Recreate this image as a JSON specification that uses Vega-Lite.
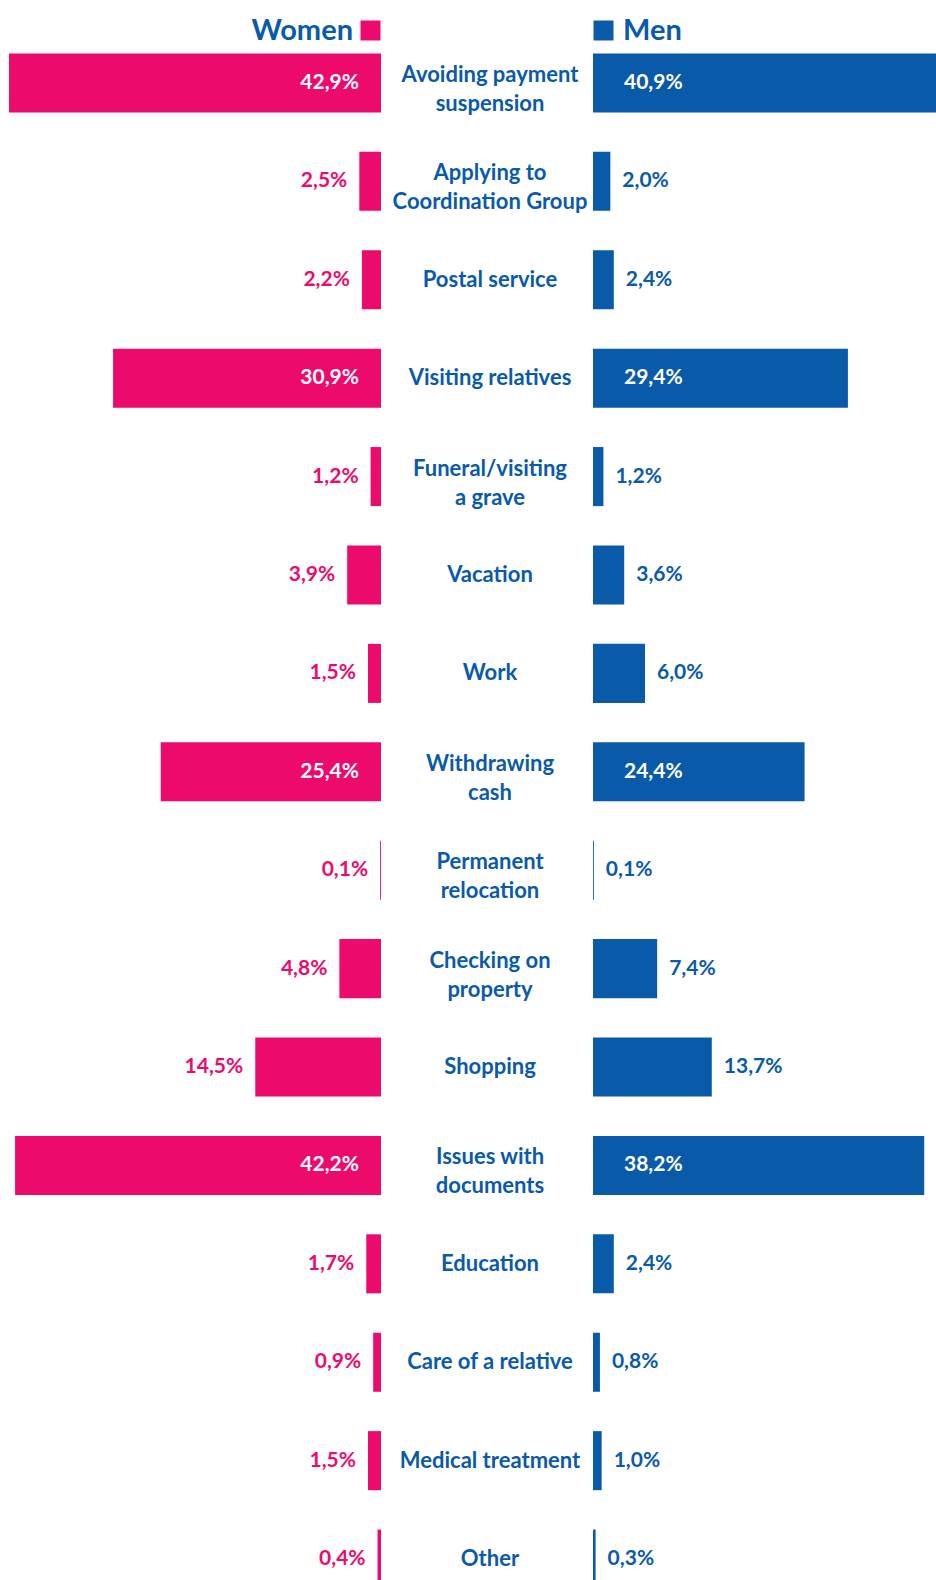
{
  "$schema": "https://vega.github.io/schema/vega-lite/v6.json",
  "padding": 0,
  "background": "white",
  "spacing": 0,
  "bounds": "flush",
  "config": {
    "view": {"stroke": null},
    "locale": {"number": {"decimal": ",", "thousands": ".", "grouping": [3], "currency": ["", " €"]}},
    "text": {"font": "Lato", "fontWeight": "bold"}
  },
  "datasets": {
    "rows": [
      {"cat": "Avoiding payment\nsuspension", "sex": "Women", "share": 0.429},
      {"cat": "Applying to\nCoordination Group", "sex": "Women", "share": 0.025},
      {"cat": "Postal service", "sex": "Women", "share": 0.022},
      {"cat": "Visiting relatives", "sex": "Women", "share": 0.309},
      {"cat": "Funeral/visiting\na grave", "sex": "Women", "share": 0.012},
      {"cat": "Vacation", "sex": "Women", "share": 0.039},
      {"cat": "Work", "sex": "Women", "share": 0.015},
      {"cat": "Withdrawing\ncash", "sex": "Women", "share": 0.254},
      {"cat": "Permanent\nrelocation", "sex": "Women", "share": 0.001},
      {"cat": "Checking on\nproperty", "sex": "Women", "share": 0.048},
      {"cat": "Shopping", "sex": "Women", "share": 0.145},
      {"cat": "Issues with\ndocuments", "sex": "Women", "share": 0.422},
      {"cat": "Education", "sex": "Women", "share": 0.017},
      {"cat": "Care of a relative", "sex": "Women", "share": 0.009},
      {"cat": "Medical treatment", "sex": "Women", "share": 0.015},
      {"cat": "Other", "sex": "Women", "share": 0.004},
      {"cat": "Avoiding payment\nsuspension", "sex": "Men", "share": 0.409},
      {"cat": "Applying to\nCoordination Group", "sex": "Men", "share": 0.020},
      {"cat": "Postal service", "sex": "Men", "share": 0.024},
      {"cat": "Visiting relatives", "sex": "Men", "share": 0.294},
      {"cat": "Funeral/visiting\na grave", "sex": "Men", "share": 0.012},
      {"cat": "Vacation", "sex": "Men", "share": 0.036},
      {"cat": "Work", "sex": "Men", "share": 0.060},
      {"cat": "Withdrawing\ncash", "sex": "Men", "share": 0.244},
      {"cat": "Permanent\nrelocation", "sex": "Men", "share": 0.001},
      {"cat": "Checking on\nproperty", "sex": "Men", "share": 0.074},
      {"cat": "Shopping", "sex": "Men", "share": 0.137},
      {"cat": "Issues with\ndocuments", "sex": "Men", "share": 0.382},
      {"cat": "Education", "sex": "Men", "share": 0.024},
      {"cat": "Care of a relative", "sex": "Men", "share": 0.008},
      {"cat": "Medical treatment", "sex": "Men", "share": 0.010},
      {"cat": "Other", "sex": "Men", "share": 0.003}
    ]
  },
  "resolve": {
    "scale": {"x": "independent", "y": "independent", "color": "independent"},
    "legend": {"color": "independent"}
  },
  "hconcat": [
    {
      "width": 381,
      "height": 1642,
      "data": {"name": "rows"},
      "transform": [{"filter": "datum.sex === 'Women'"}],
      "encoding": {
        "y": {"field": "cat", "type": "nominal", "sort": null, "axis": null,
              "scale": {"type": "band", "paddingInner": 0.4, "paddingOuter": 0.5427}}
      },
      "layer": [
        {
          "mark": {"type": "bar", "clip": true},
          "encoding": {
            "x": {"field": "share", "type": "quantitative", "axis": null,
                  "scale": {"domain": [0, 0.4394], "reverse": true, "nice": false, "zero": true}},
            "color": {"field": "sex", "type": "nominal",
                      "scale": {"domain": ["Women"], "range": ["#EC0B6D"]},
                      "legend": {"orient": "none", "legendX": 356, "legendY": 16, "title": null,
                                 "symbolType": "square", "symbolSize": 400, "symbolStrokeWidth": 0,
                                 "symbolOpacity": 1,
                                 "labelFont": "Lato", "labelFontSize": 29, "labelFontWeight": "bold",
                                 "labelColor": "#0A5AAA", "labelAlign": "right", "labelOffset": -32,
                                 "padding": 0, "labelLimit": 0}}
          }
        },
        {
          "transform": [{"filter": "datum.share >= 0.2"}],
          "mark": {"type": "text", "align": "right", "baseline": "middle", "dx": -22, "color": "white", "fontSize": 21},
          "encoding": {
            "x": {"datum": 0, "type": "quantitative"},
            "text": {"field": "share", "type": "quantitative", "format": ".1%"}
          }
        },
        {
          "transform": [{"filter": "datum.share < 0.2"}],
          "mark": {"type": "text", "align": "right", "baseline": "middle", "dx": -12, "color": "#EC0B6D", "fontSize": 21},
          "encoding": {
            "x": {"field": "share", "type": "quantitative"},
            "text": {"field": "share", "type": "quantitative", "format": ".1%"}
          }
        }
      ]
    },
    {
      "width": 212,
      "height": 1642,
      "data": {"name": "rows"},
      "transform": [{"filter": "datum.sex === 'Women'"}],
      "encoding": {
        "y": {"field": "cat", "type": "nominal", "axis": null,
              "sort": ["Avoiding payment\nsuspension", "Applying to\nCoordination Group", "Postal service",
                       "Visiting relatives", "Funeral/visiting\na grave", "Vacation", "Work",
                       "Withdrawing\ncash", "Permanent\nrelocation", "Checking on\nproperty", "Shopping",
                       "Issues with\ndocuments", "Education", "Care of a relative", "Medical treatment", "Other"],
              "scale": {"type": "band", "paddingInner": 0.4, "paddingOuter": 0.5427}},
        "text": {"field": "cat", "type": "nominal"}
      },
      "layer": [
        {
          "transform": [{"filter": "indexof(datum.cat, '\\n') < 0"}],
          "mark": {"type": "text", "lineBreak": "\n", "font": "Lato", "fontWeight": "bold", "fontSize": 22,
                   "lineHeight": 29, "color": "#0A5AAA", "align": "center", "baseline": "middle", "dx": 3}
        },
        {
          "transform": [{"filter": "indexof(datum.cat, '\\n') >= 0"}],
          "mark": {"type": "text", "lineBreak": "\n", "font": "Lato", "fontWeight": "bold", "fontSize": 22,
                   "lineHeight": 29, "color": "#0A5AAA", "align": "center", "baseline": "middle", "dx": 3, "dy": -8}
        }
      ]
    },
    {
      "width": 343,
      "height": 1642,
      "data": {"name": "rows"},
      "transform": [{"filter": "datum.sex === 'Men'"}],
      "encoding": {
        "y": {"field": "cat", "type": "nominal", "sort": null, "axis": null,
              "scale": {"type": "band", "paddingInner": 0.4, "paddingOuter": 0.5427}}
      },
      "layer": [
        {
          "mark": {"type": "bar", "clip": true},
          "encoding": {
            "x": {"field": "share", "type": "quantitative", "axis": null,
                  "scale": {"domain": [0, 0.3956], "nice": false, "zero": true}},
            "color": {"field": "sex", "type": "nominal",
                      "scale": {"domain": ["Men"], "range": ["#0A5AAA"]},
                      "legend": {"orient": "none", "legendX": -4, "legendY": 16, "title": null,
                                 "symbolType": "square", "symbolSize": 400, "symbolStrokeWidth": 0,
                                 "symbolOpacity": 1,
                                 "labelFont": "Lato", "labelFontSize": 29, "labelFontWeight": "bold",
                                 "labelColor": "#0A5AAA", "labelAlign": "left", "labelOffset": 5,
                                 "padding": 0, "labelLimit": 0}}
          }
        },
        {
          "transform": [{"filter": "datum.share >= 0.2"}],
          "mark": {"type": "text", "align": "left", "baseline": "middle", "dx": 31, "color": "white", "fontSize": 21},
          "encoding": {
            "x": {"datum": 0, "type": "quantitative"},
            "text": {"field": "share", "type": "quantitative", "format": ".1%"}
          }
        },
        {
          "transform": [{"filter": "datum.share < 0.2"}],
          "mark": {"type": "text", "align": "left", "baseline": "middle", "dx": 12, "color": "#0A5AAA", "fontSize": 21},
          "encoding": {
            "x": {"field": "share", "type": "quantitative"},
            "text": {"field": "share", "type": "quantitative", "format": ".1%"}
          }
        }
      ]
    }
  ]
}
